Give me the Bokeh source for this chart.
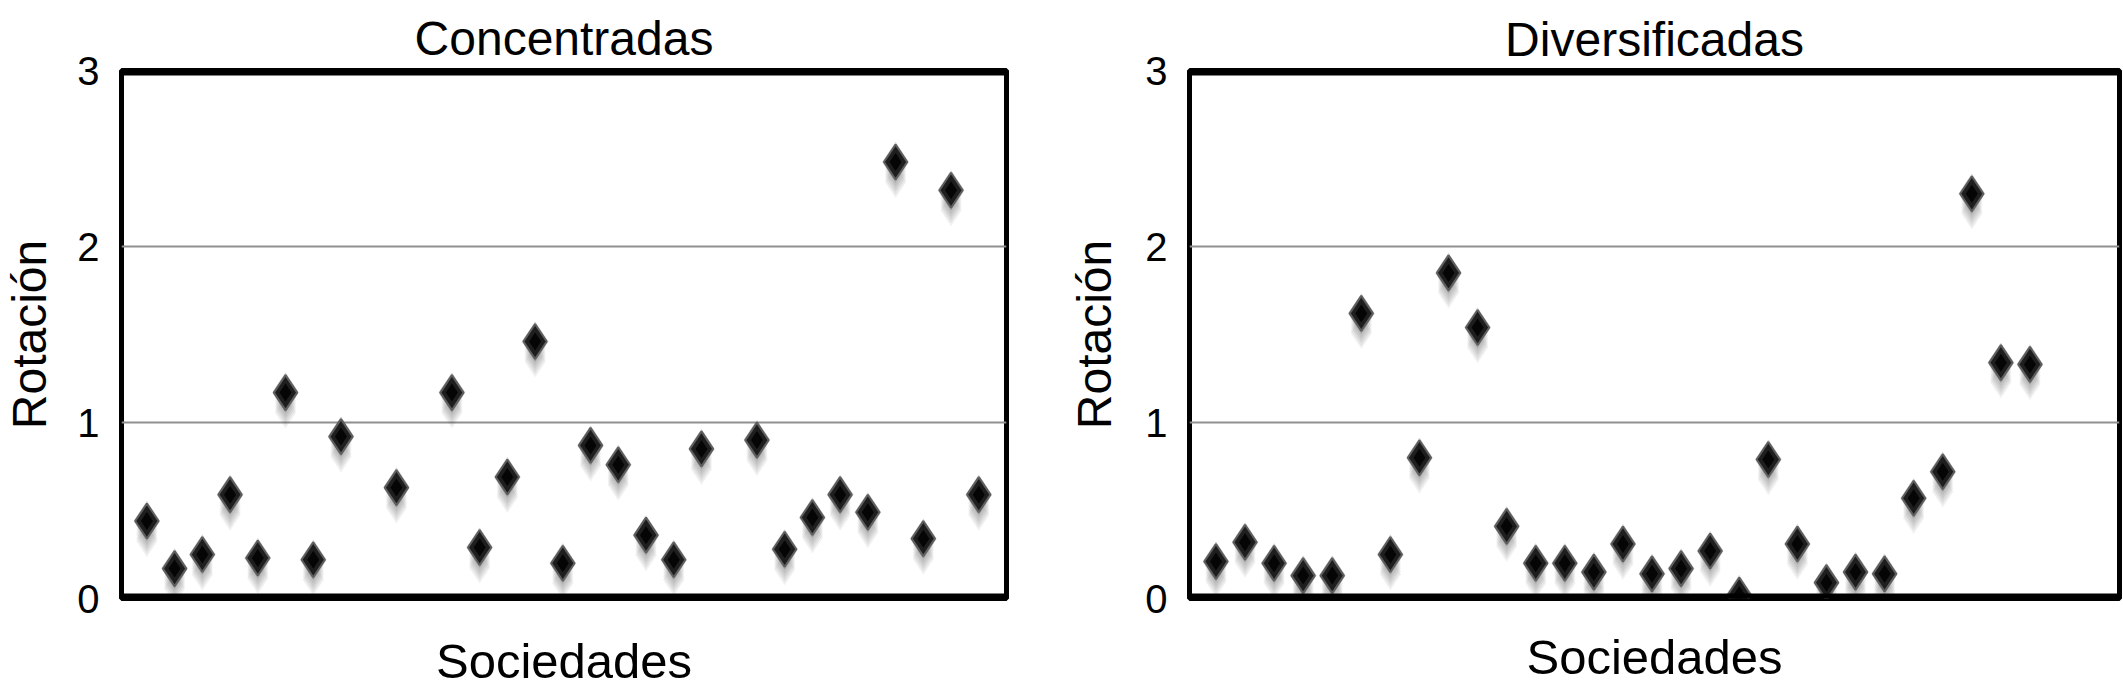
from bokeh.plotting import figure
from bokeh.layouts import row
from bokeh.models import Range1d, Span, FixedTicker, ColumnDataSource
from bokeh.embed import file_html
from bokeh.resources import INLINE

# ---- data ----
titles = ["Concentradas", "Diversificadas"]
x_label = "Sociedades"
y_label = "Rotación"
y_ticks = [0, 1, 2, 3]
grid_ticks = [1, 2]

concentradas = [0.44, 0.17, 0.25, 0.59, 0.23, 1.17, 0.22, 0.92, None, 0.63,
                None, 1.17, 0.29, 0.69, 1.46, 0.20, 0.87, 0.76, 0.36, 0.22,
                0.85, None, 0.90, 0.28, 0.46, 0.59, 0.49, 2.48, 0.34, 2.32,
                0.59]
diversificadas = [0.21, 0.32, 0.20, 0.13, 0.13, 1.62, 0.25, 0.80, 1.85, 1.54,
                  0.41, 0.20, 0.20, 0.15, 0.31, 0.14, 0.17, 0.27, 0.02, 0.79,
                  0.31, 0.09, 0.15, 0.14, 0.57, 0.72, 2.30, 1.34, 1.33]

FONT = "Liberation Sans"


def make_panel(title, values, width, height, mbl, mbr, mbt, mbb, xr,
               title_standoff, xlabel_standoff, ylabel_standoff):
    frame_h = height - mbt - mbb
    p = figure(width=width, height=height, output_backend="svg",
               toolbar_location=None, tools="",
               x_range=Range1d(*xr), y_range=Range1d(0, 3),
               min_border_left=mbl, min_border_right=mbr,
               min_border_top=mbt, min_border_bottom=mbb)
    p.background_fill_color = "white"
    p.border_fill_color = "white"
    p.outline_line_color = "black"
    p.outline_line_width = 5

    p.title.text = title
    p.title.text_font = FONT
    p.title.text_font_size = "48px"
    p.title.text_font_style = "normal"
    p.title.text_color = "black"
    p.title.align = "center"
    p.title.standoff = title_standoff

    # y axis
    p.yaxis.ticker = FixedTicker(ticks=y_ticks)
    p.yaxis.major_label_text_font = FONT
    p.yaxis.major_label_text_font_size = "40px"
    p.yaxis.major_label_text_color = "black"
    p.yaxis.major_tick_line_color = None
    p.yaxis.minor_tick_line_color = None
    p.yaxis.major_tick_out = 0
    p.yaxis.major_tick_in = 0
    p.yaxis.axis_line_color = None
    p.yaxis.major_label_standoff = 22
    p.yaxis.axis_label = y_label
    p.yaxis.axis_label_text_font = FONT
    p.yaxis.axis_label_text_font_size = "48px"
    p.yaxis.axis_label_text_font_style = "normal"
    p.yaxis.axis_label_text_color = "black"
    p.yaxis.axis_label_standoff = ylabel_standoff

    # x axis: label only
    p.xaxis.ticker = FixedTicker(ticks=[])
    p.xaxis.major_tick_line_color = None
    p.xaxis.minor_tick_line_color = None
    p.xaxis.major_tick_out = 0
    p.xaxis.major_tick_in = 0
    p.xaxis.axis_line_color = None
    p.xaxis.major_label_text_font_size = "0px"
    p.xaxis.major_label_standoff = 0
    p.xaxis.axis_label = x_label
    p.xaxis.axis_label_text_font = FONT
    p.xaxis.axis_label_text_font_size = "49px"
    p.xaxis.axis_label_text_font_style = "normal"
    p.xaxis.axis_label_text_color = "black"
    p.xaxis.axis_label_standoff = xlabel_standoff

    # grid
    p.xgrid.visible = False
    p.ygrid.ticker = FixedTicker(ticks=grid_ticks)
    p.ygrid.grid_line_color = "#8f8f8f"
    p.ygrid.grid_line_width = 2

    # thick top/bottom borders
    p.add_layout(Span(location=0, dimension="width", line_color="black",
                      line_width=10))
    p.add_layout(Span(location=3, dimension="width", line_color="black",
                      line_width=10))

    xs = list(range(len(values)))
    ys = [float("nan") if v is None else v for v in values]
    px = 3.0 / frame_h
    # blurred shadow below each diamond
    for k in [20, 17, 14, 11, 8, 5]:
        sh = ColumnDataSource(dict(x=xs, y=[y - k * px for y in ys]))
        p.scatter("x", "y", source=sh, marker="diamond", size=32,
                  fill_color="#3a3a3a", fill_alpha=0.07, line_color=None)
    src = ColumnDataSource(dict(x=xs, y=ys))
    p.scatter("x", "y", source=src, marker="diamond", size=40,
              fill_color="#5a5a5a", fill_alpha=0.3, line_color=None)
    p.scatter("x", "y", source=src, marker="diamond", size=35,
              fill_color="#1e1e1e", line_color="#5e5e5e", line_width=2)
    p.scatter("x", "y", source=src, marker="diamond", size=18,
              fill_color="#050505", line_color=None)
    return p


p1 = make_panel(titles[0], concentradas, 1065, 691, 120, 59, 70, 93,
                (-0.915, 31.0), 12, 35, 18)
p2 = make_panel(titles[1], diversificadas, 1058, 691, 123, 4, 68, 87,
                (-0.91, 31.08), 10, 31, 21)

layout = row(p1, p2)
open("out.html", "w").write(file_html(layout, INLINE))
